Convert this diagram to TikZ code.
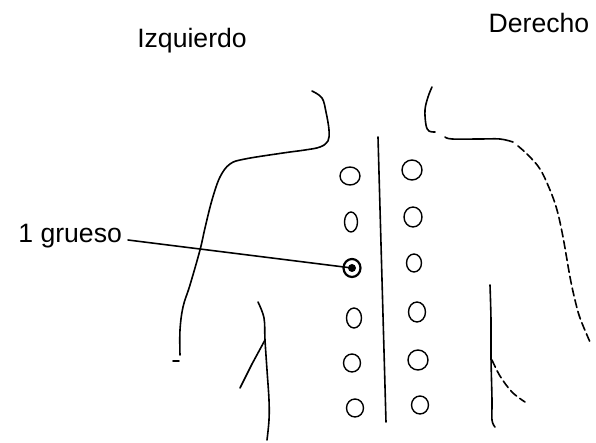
\documentclass[tikz,border=0pt]{standalone}
\usepackage{fontspec}
\setmainfont{Liberation Sans}
\usepackage{tikz}
\usetikzlibrary{shapes.geometric}

\tikzset{
	contour/.style={line width=0.8pt, line cap=round, line join=round},
	broken/.style={contour, dash pattern=on 4pt off 2pt},
	spot/.style={ellipse, draw, line width=0.7pt, minimum width=8.5pt, minimum height=9pt, inner sep=0pt},
	label text/.style={font=\fontsize{13.3}{15}\selectfont, inner sep=0pt}
}

\begin{document}
\begin{tikzpicture}[x=0.5pt, y=-0.5pt]
	\useasboundingbox (0,0) rectangle (596,443);

	% side labels
	\node[label text](izq) at (192,41){Izquierdo};
	\node[label text](der) at (539,23){Derecho};
	\node[label text, anchor=base west](grueso) at (18,243){1 grueso};

	% left side of the back
	\draw[contour] plot[smooth, tension=0.6] coordinates {(312,91) (322,98) (326,112) (329,130) (328,141) (320,147) (305,150) (283,153) (245,159) (230,164) (220,177) (212,200) (205,228) (200,250) (190,285) (183,307) (180,330) (180,355)};
	\draw[contour] (173,361) -- (179,361);
	\draw[contour] plot[smooth, tension=0.6] coordinates {(258,302) (264,318) (265,340) (267,370) (269,400) (269,420) (267,440)};
	\draw[contour] (265,340) -- (252,364) -- (240,388);

	% right side of the back
	\draw[contour] plot[smooth, tension=0.6] coordinates {(432,87) (428,97) (425,110) (426,125) (429,131) (435,132)};
	\draw[contour] plot[smooth, tension=0.6] coordinates {(445,137) (452,139) (480,139) (500,139) (513,142)};
	\draw[broken] plot[smooth, tension=0.6] coordinates {(518,146) (528,155) (540,169) (550,190) (557,210) (563,237) (570,277) (575,300) (580,318) (590,342)};
	\draw[contour] plot[smooth, tension=0.6] coordinates {(490,285) (491,320) (491,357) (492,400) (492,420) (495,427)};
	\draw[broken] plot[smooth, tension=0.6] coordinates {(492,360) (500,376) (512,392) (525,402)};

	% spine
	\draw[contour] (378,137) -- (386,422);

	% points on the left
	\node[spot, minimum width=10pt](l1) at (350,176){};
	\node[spot, minimum width=6.5pt, minimum height=10pt](l2) at (351,222){};
	\node[spot, line width=1.1pt](l3) at (352,268){};
	\node[spot, minimum width=7.5pt, minimum height=10pt](l4) at (354,318){};
	\node[spot](l5) at (352,363){};
	\node[spot](l6) at (355,408){};

	% points on the right
	\node[spot, minimum width=10pt, minimum height=10pt](r1) at (412,170){};
	\node[spot, minimum width=9pt, minimum height=10pt](r2) at (413,217){};
	\node[spot, minimum width=7.5pt](r3) at (414,263){};
	\node[spot, minimum height=10pt](r4) at (417,312){};
	\node[spot, minimum width=10pt, minimum height=10pt](r5) at (418,360){};
	\node[spot](r6) at (420,405){};

	% leader to the thick point
	\coordinate (lead) at (128,240);
	\draw[contour] (lead) -- (l3.center);
	\fill (l3.center) circle (2pt);
\end{tikzpicture}
\end{document}
